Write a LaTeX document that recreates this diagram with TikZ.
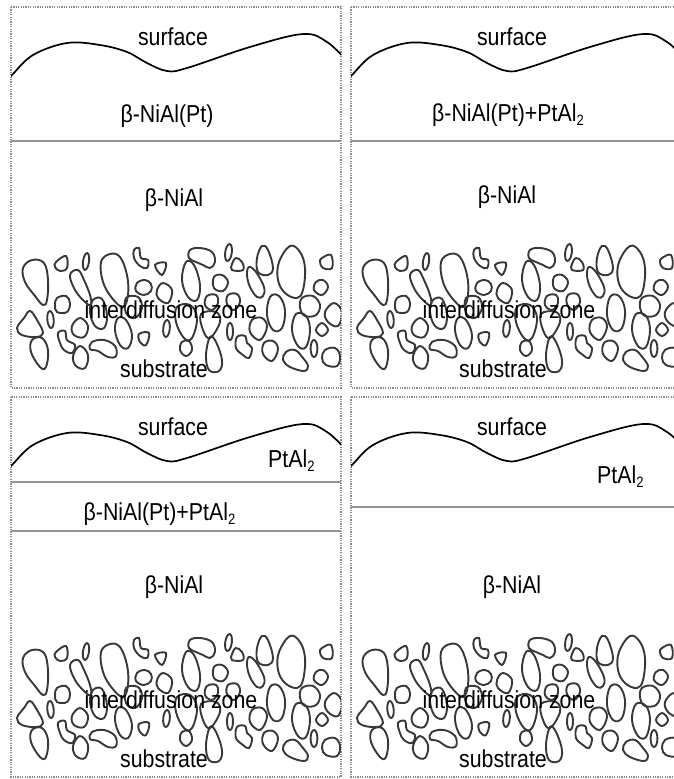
\documentclass[tikz,border=0pt]{standalone}
\usepackage{fontspec}
\setmainfont{Liberation Sans}[FakeStretch=0.87]

% one closed, rounded grain outline
\newcommand\grain[1]{\draw[grain] plot[smooth cycle,tension=0.65] coordinates {#1};}
% thin elongated grain: centre, half width, half height, tilt
\newcommand\needle[4]{\draw[grain] (#1) ellipse [x radius=#2, y radius=#3, rotate=#4];}
% lowered small subscript two
\newcommand\subtwo{\raisebox{-4.5pt}{\fontsize{15}{15}\selectfont 2}}

% wavy coating surface, in panel coordinates
\newcommand\surfacecurve{%
  \draw[surfline] plot[smooth,tension=0.6] coordinates {(4,83) (12,75) (33,55) (67,43) (100,45) (127,52) (147,63) (167,71) (187,68) (250,47) (303,34) (327,42) (346,60)};}

% grains of the interdiffusion zone, in panel coordinates
\newcommand\grainfield{%
  \grain{(23,268) (32,260) (44,263) (48,280) (47,300) (43,305) (35,296) (25,282)}
  \grain{(56,262) (66,256) (67,268) (60,271) (55,267)}
  \needle{86,261.5}{3}{8.5}{-8}
  \grain{(101,262) (110,254) (120,257) (127,275) (128,295) (123,307) (112,298) (103,282)}
  \grain{(134,250) (139,248) (141,258) (148,260) (147,268) (140,266) (134,258)}
  \grain{(155,265) (166,263) (162,275)}
  \grain{(190,250) (200,248) (212,252) (215,262) (210,268) (203,265) (196,262) (189,258)}
  \needle{228.5,252.5}{3.3}{8.5}{-8}
  \grain{(236,258) (242,262) (243,270) (232,270) (232,264)}
  \grain{(262,246) (268,250) (273,268) (268,275) (258,272) (257,258)}
  \grain{(290,246) (300,252) (305,268) (303,290) (297,298) (285,293) (278,280) (279,262)}
  \grain{(322,258) (331,255) (332,268) (323,268) (320,262)}
  \grain{(70,275) (78,270) (84,280) (90,295) (91,305) (85,302) (75,290)}
  \grain{(137,283) (145,280) (151,284) (151,291) (144,295) (136,291)}
  \grain{(163,283) (172,290) (168,303) (158,298) (157,290)}
  \grain{(186,262) (194,265) (200,285) (197,300) (188,297) (182,280)}
  \grain{(214,277) (222,275) (228,282) (223,291) (214,288)}
  \grain{(249,267) (256,272) (264,287) (263,296) (257,297) (250,287) (247,275)}
  \grain{(316,282) (323,280) (328,287) (322,295) (314,290)}
  \grain{(57,298) (66,296) (70,303) (67,312) (57,312) (55,305)}
  \grain{(207,296) (216,295) (218,303) (212,310) (205,305)}
  \grain{(228,295) (237,294) (240,302) (234,310) (227,304)}
  \grain{(30,311) (37,320) (43,333) (36,337) (22,335) (17,328) (24,318)}
  \needle{50.5,319.5}{3.2}{8.5}{5}
  \grain{(80,318) (88,326) (84,337) (74,335) (72,326)}
  \grain{(93,300) (102,299) (107,315) (104,328) (95,326) (90,312)}
  \grain{(118,318) (126,320) (132,335) (128,348) (120,345) (115,330)}
  \grain{(126,298) (138,297) (142,308) (135,318) (126,313)}
  \needle{166.5,328.5}{3.3}{8.5}{-5}
  \grain{(177,307) (190,305) (197,318) (192,338) (184,338) (176,322)}
  \grain{(201,314) (216,312) (220,322) (210,338) (203,330)}
  \grain{(270,297) (279,296) (285,310) (282,328) (273,330) (267,315)}
  \grain{(302,298) (313,296) (320,305) (316,315) (305,316) (300,308)}
  \grain{(334,303) (342,312) (338,326) (328,322) (325,312)}
  \grain{(296,314) (306,316) (310,330) (306,347) (298,346) (292,330)}
  \grain{(322,323) (328,330) (322,336) (316,330)}
  \needle{230,331.5}{3}{8.5}{0}
  \grain{(252,320) (262,318) (267,327) (260,340) (250,332)}
  \grain{(32,340) (42,338) (48,350) (46,367) (40,367) (31,352)}
  \grain{(58,333) (65,331) (67,340) (75,345) (72,353) (64,350) (60,343)}
  \grain{(80,346) (88,355) (85,368) (76,366) (73,356)}
  \grain{(92,342) (104,340) (115,346) (116,356) (108,357) (98,351) (90,349)}
  \grain{(139,334) (149,333) (146,345) (140,342)}
  \grain{(182,342) (189,341) (192,350) (186,356) (180,350)}
  \grain{(210,337) (216,342) (222,360) (219,371) (209,370) (206,355)}
  \grain{(237,337) (245,336) (247,343) (252,348) (249,358) (243,355) (236,348)}
  \grain{(264,343) (273,341) (278,349) (272,361) (263,354)}
  \grain{(286,352) (295,350) (303,358) (308,366) (304,371) (290,367) (283,360)}
  \needle{314,348.5}{3.4}{8.5}{0}
  \grain{(325,350) (335,348) (340,356) (337,366) (326,365) (322,358)}
}

\begin{document}
\begin{tikzpicture}[x=1pt,y=-1pt,
  frame/.style={draw=black!45, line width=1.4pt, dash pattern=on 1.2pt off 1.2pt},
  surfline/.style={draw=black, line width=1.7pt},
  layer/.style={draw=black!42, line width=2.4pt},
  grain/.style={draw=black!78, line width=1.9pt},
  lbl/.style={anchor=base, inner sep=0pt, text=black,
              font=\fontsize{24.5}{28}\selectfont}]
\clip (0,0) rectangle (674,779);

% panel frames
\draw[frame] (11,7) rectangle (341,388);
\draw[frame] (351,7) rectangle (681,388);
\draw[frame] (11,397) rectangle (341,777);
\draw[frame] (351,397) rectangle (681,777);

% surface and grains of each panel
\foreach \dx/\dy in {0/0, 340/0, 0/390, 340/390} {
  \begin{scope}[shift={(\dx,\dy)}]
    \clip (11,7) rectangle (341,387.5);
    \surfacecurve
    \grainfield
  \end{scope}
}

% layer boundaries
\draw[layer] (11,141) -- (341,141);
\draw[layer] (351,141) -- (681,141);
\draw[layer] (11,482) -- (341,482);
\draw[layer] (11,531) -- (341,531);
\draw[layer] (351,507) -- (681,507);

% first panel
\node[lbl] (surfA) at (173,45) {surface};
\node[lbl] (ptA) at (167,122) {β-NiAl(Pt)};
\node[lbl] (niA) at (174,206) {β-NiAl};
\node[lbl] (idzA) at (171,318) {interdiffusion zone};
\node[lbl] (subA) at (164,377) {substrate};

% second panel
\node[lbl] (surfB) at (512,45) {surface};
\node[lbl] (ptB) at (508,121) {β-NiAl(Pt)+PtAl\subtwo};
\node[lbl] (niB) at (507,203) {β-NiAl};
\node[lbl] (idzB) at (509,318) {interdiffusion zone};
\node[lbl] (subB) at (503,377) {substrate};

% third panel
\node[lbl] (surfC) at (173,435) {surface};
\node[lbl, anchor=base west] (alC) at (268,467) {PtAl\subtwo};
\node[lbl] (ptC) at (159.5,520) {β-NiAl(Pt)+PtAl\subtwo};
\node[lbl] (niC) at (174,593) {β-NiAl};
\node[lbl] (idzC) at (171,708) {interdiffusion zone};
\node[lbl] (subC) at (164,767) {substrate};

% fourth panel
\node[lbl] (surfD) at (512,435) {surface};
\node[lbl, anchor=base west] (alD) at (597,483) {PtAl\subtwo};
\node[lbl] (niD) at (512,593) {β-NiAl};
\node[lbl] (idzD) at (509,708) {interdiffusion zone};
\node[lbl] (subD) at (503,767) {substrate};
\end{tikzpicture}
\end{document}
